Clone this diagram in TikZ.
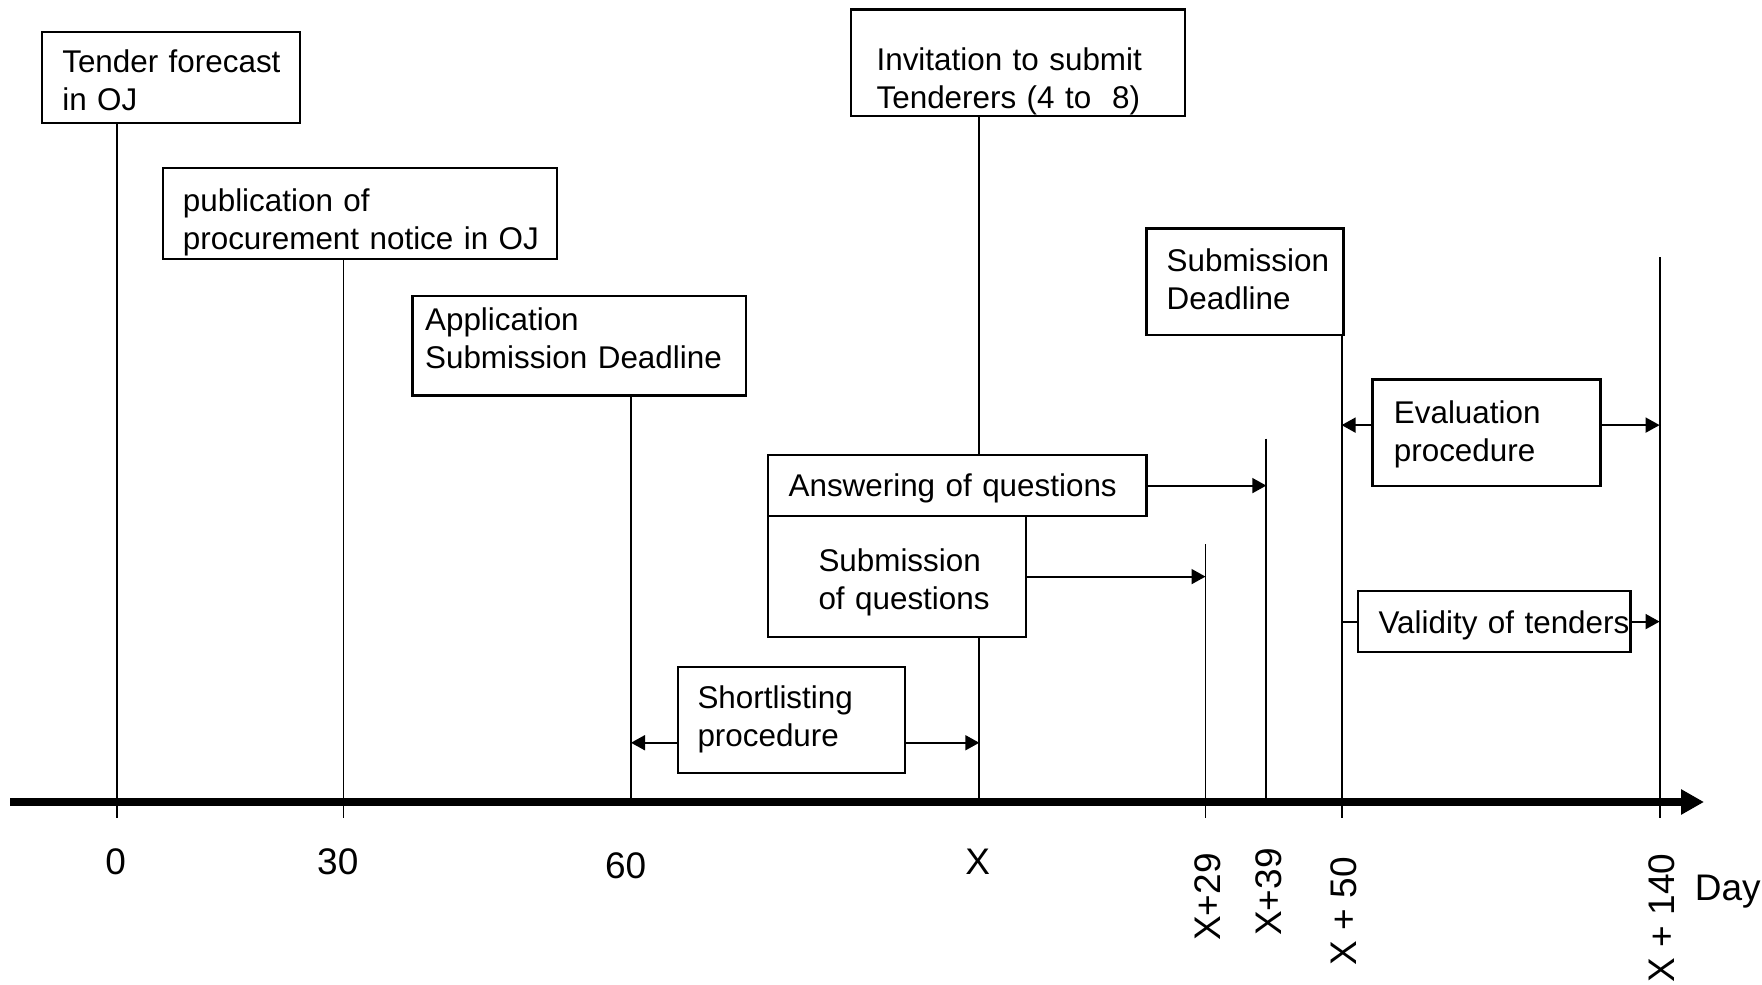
\documentclass[tikz,border=0pt]{standalone}
\usepackage{fontspec}
\setmainfont{Liberation Sans}
\usetikzlibrary{arrows.meta}
\begin{document}
\begin{tikzpicture}[x=0.5pt,y=-0.5pt,
  boxnode/.style={draw, line width=1.1pt, fill=white, anchor=north west, inner ysep=0pt,
    align=left, font=\fontsize{15.7}{19}\selectfont},
  vline/.style={line width=0.9pt},
  harrow/.style={line width=0.9pt, -{Triangle[length=7pt,width=7.5pt]}},
  axislbl/.style={inner sep=0pt, font=\fontsize{18.5}{22}\selectfont},
]
\useasboundingbox (0,0) rectangle (1762,985);

% axis points
\coordinate (axL) at (10,802);
\coordinate (axR) at (1704,802);
\coordinate (t0) at (117,802);     \coordinate (t0b) at (117,818);
\coordinate (t30) at (343.5,802);  \coordinate (t30b) at (343.5,818);
\coordinate (t60) at (631,802);
\coordinate (tX) at (979.3,802);
\coordinate (t29) at (1205.5,802); \coordinate (t29b) at (1205.5,818); \coordinate (t29top) at (1205.5,544.3);
\coordinate (t39) at (1266.3,802); \coordinate (t39top) at (1266.3,438.7);
\coordinate (t50) at (1341.6,802); \coordinate (t50b) at (1341.6,818);
\coordinate (t140) at (1659.6,802); \coordinate (t140b) at (1659.6,818); \coordinate (t140top) at (1659.6,257.3);

% boxes
\node[boxnode, inner xsep=10.1pt, text width=108.6pt, text height=20.55pt, text depth=25.1pt]
  (tf) at (41,30.7) {\mbox{Tender forecast}\\\mbox{in OJ}};
\node[boxnode, inner xsep=10.15pt, text width=176.8pt, text height=21.75pt, text depth=23.75pt]
  (pub) at (161.5,166.7) {\mbox{publication of}\\\mbox{procurement notice in OJ}};
\node[boxnode, inner xsep=6.3pt, text width=154.05pt, text height=17.1pt, text depth=32.55pt]
  (app) at (411.4,295) {\mbox{Application}\\\mbox{Submission Deadline}};
\node[boxnode, inner xsep=12.8pt, text width=141.25pt, text height=30.45pt, text depth=22.75pt]
  (inv) at (849.9,8.3) {\mbox{Invitation to submit}\\\mbox{Tenderers (4 to~~8)}};
\node[boxnode, inner xsep=10.15pt, text width=78.25pt, text height=21.75pt, text depth=31.45pt]
  (sd) at (1145.3,227.3) {\mbox{Submission}\\\mbox{Deadline}};
\node[boxnode, inner xsep=10.75pt, text width=92.5pt, text height=22.1pt, text depth=31.1pt]
  (ev) at (1371.3,378.3) {\mbox{Evaluation}\\\mbox{procedure}};
\node[boxnode, inner xsep=10.15pt, text width=168.75pt, text height=20.9pt, text depth=9.6pt]
  (ans) at (767.2,454) {\mbox{Answering of questions}};
\node[boxnode, inner xsep=25.1pt, text width=78.6pt, text height=27.9pt, text depth=32.6pt]
  (subq) at (767.2,515) {\mbox{Submission}\\\mbox{of questions}};
\node[boxnode, inner xsep=10.5pt, text width=115.4pt, text height=21.25pt, text depth=9.25pt]
  (val) at (1356.5,590) {\mbox{Validity of tenders}};
\node[boxnode, inner xsep=9.95pt, text width=93.8pt, text height=20.75pt, text depth=32.1pt]
  (sl) at (676.5,666) {\mbox{Shortlisting}\\\mbox{procedure}};

% vertical lines
\draw[vline] (t0 |- tf.south) -- (t0b);
\draw[vline] (t30 |- pub.south) -- (t30b);
\draw[vline] (t60 |- app.south) -- (t60);
\draw[vline] (tX |- inv.south) -- (tX |- ans.north);
\draw[vline] (tX |- subq.south) -- (tX);
\draw[vline] (t29top) -- (t29b);
\draw[vline] (t39top) -- (t39);
\draw[vline] (t50 |- sd.south) -- (t50b);
\draw[vline] (t140top) -- (t140b);

% horizontal arrows
\coordinate (evL) at ([yshift=3.75pt]ev.west);
\coordinate (evR) at ([yshift=3.75pt]ev.east);
\draw[harrow] (evL) -- (evL -| t50);
\draw[harrow] (evR) -- (evR -| t140);
\draw[harrow] (ans.east) -- (ans.east -| t39);
\draw[harrow] (subq.east) -- (subq.east -| t29);
\draw[vline] (val.west -| t50) -- (val.west);
\draw[harrow] (val.east) -- (val.east -| t140);
\coordinate (slL) at ([yshift=-11.4pt]sl.west);
\coordinate (slR) at ([yshift=-11.4pt]sl.east);
\draw[harrow] (slL) -- (slL -| t60);
\draw[harrow] (slR) -- (slR -| tX);

% axis
\draw[line width=3.7pt, -{Triangle[length=11.5pt,width=12pt]}] (axL) -- (axR);

% labels
\node[axislbl, anchor=base] (l0) at (115.7,874.5) {0};
\node[axislbl, anchor=base] (l30) at (337.8,874.5) {30};
\node[axislbl, anchor=base] (l60) at (625.7,878) {60};
\node[axislbl, anchor=base] (lX) at (977.8,874) {X};
\node[axislbl, rotate=90, anchor=east] (l29) at (1207.9,853) {X+29};
\node[axislbl, rotate=90, anchor=east] (l39) at (1268.3,848) {X+39};
\node[axislbl, rotate=90, anchor=east] (l50) at (1343.9,856.7) {X + 50};
\node[axislbl, rotate=90, anchor=east] (l140) at (1661.4,853.3) {X + 140};
\node[axislbl, anchor=base west] (day) at (1694.4,900) {Day};
\end{tikzpicture}
\end{document}
